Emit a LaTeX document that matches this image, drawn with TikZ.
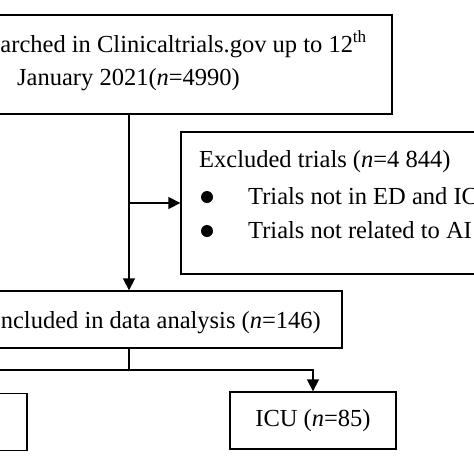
\documentclass[tikz,border=0pt]{standalone}
\usepackage{fontspec}
\setmainfont{Liberation Serif}
\usetikzlibrary{arrows.meta}
\begin{document}
\begin{tikzpicture}[x=1pt,y=-1pt,
  box/.style={draw,line width=1.3pt,inner sep=0pt,rectangle},
  txt/.style={inner sep=0pt,font=\fontsize{24.5}{33}\selectfont},
  conn/.style={line width=1.3pt},
  arr/.style={conn,-{Triangle[length=12pt,width=12pt]}},
  dot/.style={circle,fill,inner sep=0pt,minimum size=12pt}]
\clip (0,0) rectangle (474,474);
\useasboundingbox (0,0) rectangle (474,474);
% boxes
\node[box,minimum width=542pt,minimum height=99pt] (search) at (121,64.5) {};
\node[box,minimum width=380pt,minimum height=142pt] (excl) at (371,203) {};
\node[box,minimum width=500pt,minimum height=57pt] (incl) at (92,319.5) {};
\node[box,minimum width=166pt,minimum height=57pt] (icu) at (313,420.5) {};
\node[box,minimum width=166pt,minimum height=57pt] (ed) at (-56,422) {};
% texts
\node[txt,anchor=base east] (s1) at (367,52) {Trials searched in Clinicaltrials.gov up to 12\textsuperscript{th}};
\node[txt,anchor=base west] (s2) at (17,85) {January 2021(\textit{n}=4990)};
\node[txt,anchor=base west] (e0) at (199,167) {Excluded trials (\textit{n}=4 844)};
\node[dot] (b1) at (207,197) {};
\node[dot] (b2) at (207,231) {};
\node[txt,anchor=base west] (e1) at (248,204) {Trials not in ED and ICU};
\node[txt,anchor=base west] (e2) at (248,238) {Trials not related to AI};
\node[txt,anchor=base east] (i1) at (321,328) {Included in data analysis (\textit{n}=146)};
\node[txt] (c1) at (icu.center) {ICU (\textit{n}=85)};
% connectors
\coordinate (split) at (129,370);
\draw[arr] (search.south -| split) -- (incl.north -| split);
\draw[arr] (129,203) -- (excl.west |- 0,203);
\draw[conn] (incl.south -| split) -- (split);
\draw[arr] (split) -| (icu.north);
\draw[arr] (split) -| (ed.north);
\end{tikzpicture}
\end{document}
